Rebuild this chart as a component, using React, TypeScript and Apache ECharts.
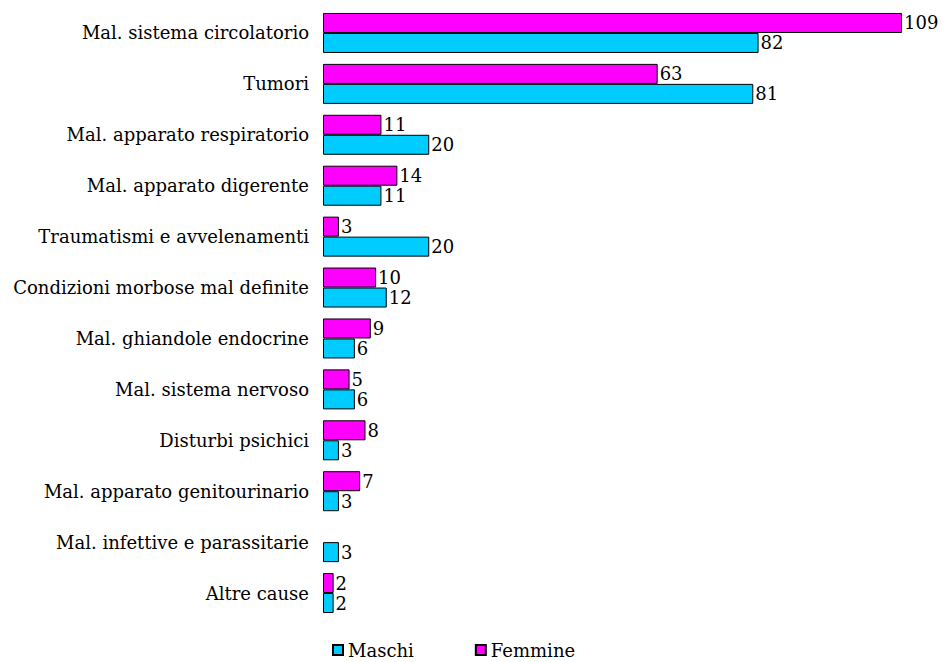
import React, { useEffect, useRef } from "react";
import * as echarts from "echarts";

const categories = [
  "Mal. sistema circolatorio",
  "Tumori",
  "Mal. apparato respiratorio",
  "Mal. apparato digerente",
  "Traumatismi e avvelenamenti",
  "Condizioni morbose mal definite",
  "Mal. ghiandole endocrine",
  "Mal. sistema nervoso",
  "Disturbi psichici",
  "Mal. apparato genitourinario",
  "Mal. infettive e parassitarie",
  "Altre cause",
];
const femmine = [109, 63, 11, 14, 3, 10, 9, 5, 8, 7, null, 2];
const maschi = [82, 81, 20, 11, 20, 12, 6, 6, 3, 3, 3, 2];

const FONT = "'DejaVu Serif', serif";
const FS = 18;

export default function App() {
  const ref = useRef<HTMLDivElement>(null);
  useEffect(() => {
    const chart = echarts.init(ref.current!, null, { renderer: "svg" });
    const label = {
      show: true,
      position: "right" as const,
      distance: 2,
      color: "#000",
      fontFamily: FONT,
      fontSize: FS,
    };
    chart.setOption({
      animation: false,
      backgroundColor: "#fff",
      grid: { left: 323, right: 43, top: 7.5, bottom: 43.5, containLabel: false },
      xAxis: {
        type: "value",
        min: 0,
        max: 109,
        show: false,
      },
      yAxis: {
        type: "category",
        data: categories,
        inverse: true,
        axisLine: { show: false },
        axisTick: { show: false },
        axisLabel: { color: "#000", fontFamily: FONT, fontSize: FS, margin: 14 },
      },
      legend: {
        data: ["Maschi", "Femmine"],
        left: 332,
        top: 641,
        padding: 0,
        itemWidth: 10,
        itemHeight: 10,
        itemGap: 61,
        icon: "rect",
        textStyle: { color: "#000", fontFamily: FONT, fontSize: FS, lineHeight: 16 },
      },
      series: [
        {
          name: "Femmine",
          type: "bar",
          data: femmine,
          barWidth: 20,
          barGap: "0%",
          itemStyle: { color: "#FF00FF", borderColor: "#000", borderWidth: 1 },
          label,
        },
        {
          name: "Maschi",
          type: "bar",
          data: maschi,
          barWidth: 20,
          barGap: "0%",
          itemStyle: { color: "#00CCFF", borderColor: "#000", borderWidth: 1 },
          label,
        },
      ],
    });
    return () => chart.dispose();
  }, []);
  return <div ref={ref} style={{ width: 945, height: 662, position: "absolute", left: 0, top: 0 }} />;
}
